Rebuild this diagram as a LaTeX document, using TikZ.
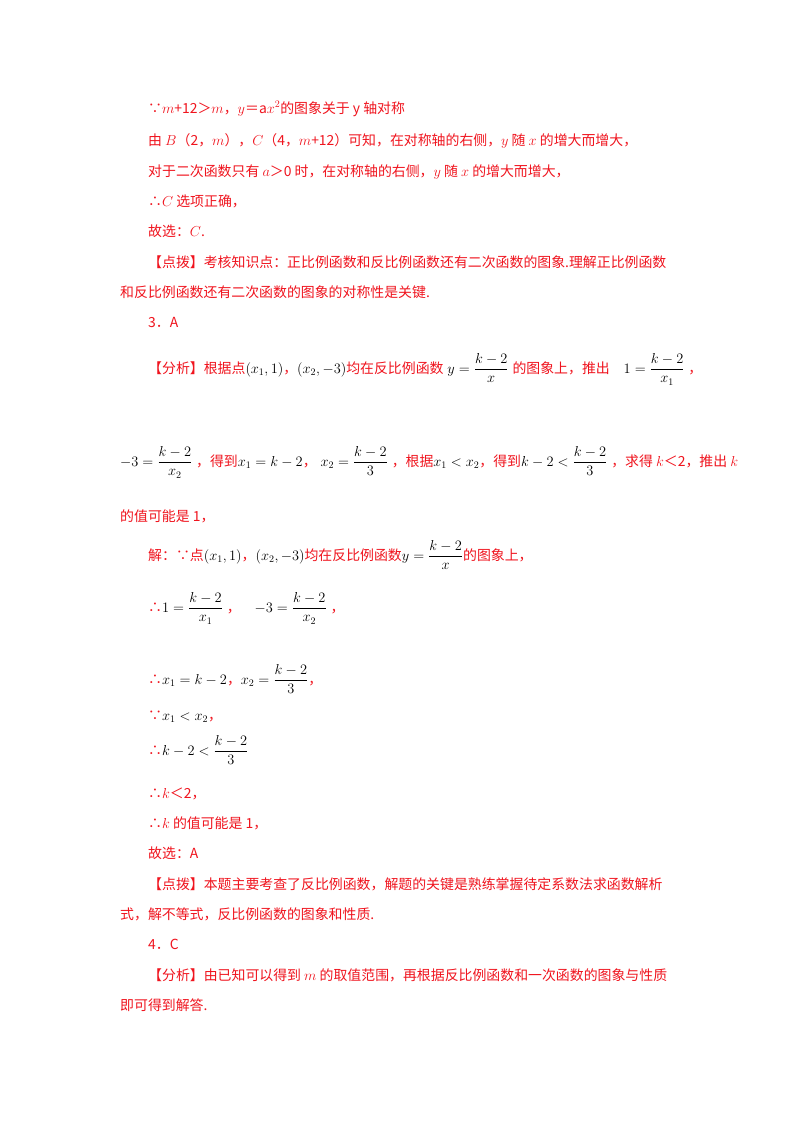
\documentclass[tikz,border=0pt]{standalone}
\usepackage{amsmath}
\usepackage{fontspec}
\setmainfont{Noto Sans CJK SC}
\definecolor{rd}{RGB}{240,20,30}
\newcommand{\mk}[1]{\textcolor{black}{$#1$}}
\tikzset{ln/.style={anchor=base west,inner sep=0pt,text=rd,font=\fontsize{13.9}{17}\selectfont}}
\begin{document}
\begin{tikzpicture}[x=1pt,y=-1pt]
\useasboundingbox[fill=white] (0,0) rectangle (800,1132);
\node[ln] (l1) at (148,113) {∵$m$+12＞$m$，$y$＝a$x^2$的图象关于 y 轴对称};
\node[ln] (l2) at (148,145) {由 $B$（2，$m$），$C$（4，$m$+12）可知，在对称轴的右侧，$y$ 随 $x$ 的增大而增大，};
\node[ln] (l3) at (148,176) {对于二次函数只有 $a$＞0 时，在对称轴的右侧，$y$ 随 $x$ 的增大而增大，};
\node[ln] (l4) at (148,206) {∴$C$ 选项正确，};
\node[ln] (l5) at (148,236) {故选：$C$.};
\node[ln] (l6) at (148,267) {【点拨】考核知识点：正比例函数和反比例函数还有二次函数的图象.理解正比例函数};
\node[ln] (l7) at (120,297) {和反比例函数还有二次函数的图象的对称性是关键.};
\node[ln] (l8) at (148,327) {3．A};
\node[ln] (l9) at (148,373) {【分析】根据点\mk{\left(x_1,1\right)}，\mk{\left(x_2,-3\right)}均在反比例函数\;\mk{y=\dfrac{k-2}{x}}\;的图象上，推出\quad\mk{1=\dfrac{k-2}{x_1}}\;，};
\node[ln] (l10) at (120,466) {\mk{-3=\dfrac{k-2}{x_2}}\;，得到\mk{x_1=k-2}，\;\mk{x_2=\dfrac{k-2}{3}}\;，根据\mk{x_1<x_2}，得到\mk{k-2<\dfrac{k-2}{3}}\;，求得 $k$＜2，推出 $k$};
\node[ln] (l11) at (120,521) {的值可能是 1，};
\node[ln] (l12) at (148,560) {解：∵点\mk{\left(x_1,1\right)}，\mk{\left(x_2,-3\right)}均在反比例函数\mk{y=\dfrac{k-2}{x}}的图象上，};
\node[ln] (l13) at (148,612) {∴\mk{1=\dfrac{k-2}{x_1}}\;，\quad\mk{-3=\dfrac{k-2}{x_2}}\;，};
\node[ln] (l14) at (148,684) {∴\mk{x_1=k-2}，\mk{x_2=\dfrac{k-2}{3}}，};
\node[ln] (l15) at (148,720) {∵\mk{x_1<x_2}，};
\node[ln] (l16) at (148,755) {∴\mk{k-2<\dfrac{k-2}{3}}};
\node[ln] (l17) at (148,798) {∴$k$＜2，};
\node[ln] (l18) at (148,828) {∴$k$ 的值可能是 1，};
\node[ln] (l19) at (148,858) {故选：A};
\node[ln] (l20) at (148,889) {【点拨】本题主要考查了反比例函数，解题的关键是熟练掌握待定系数法求函数解析};
\node[ln] (l21) at (120,919) {式，解不等式，反比例函数的图象和性质.};
\node[ln] (l22) at (148,949) {4．C};
\node[ln] (l23) at (148,980) {【分析】由已知可以得到 $m$ 的取值范围，再根据反比例函数和一次函数的图象与性质};
\node[ln] (l24) at (120,1010) {即可得到解答.};
\end{tikzpicture}
\end{document}
